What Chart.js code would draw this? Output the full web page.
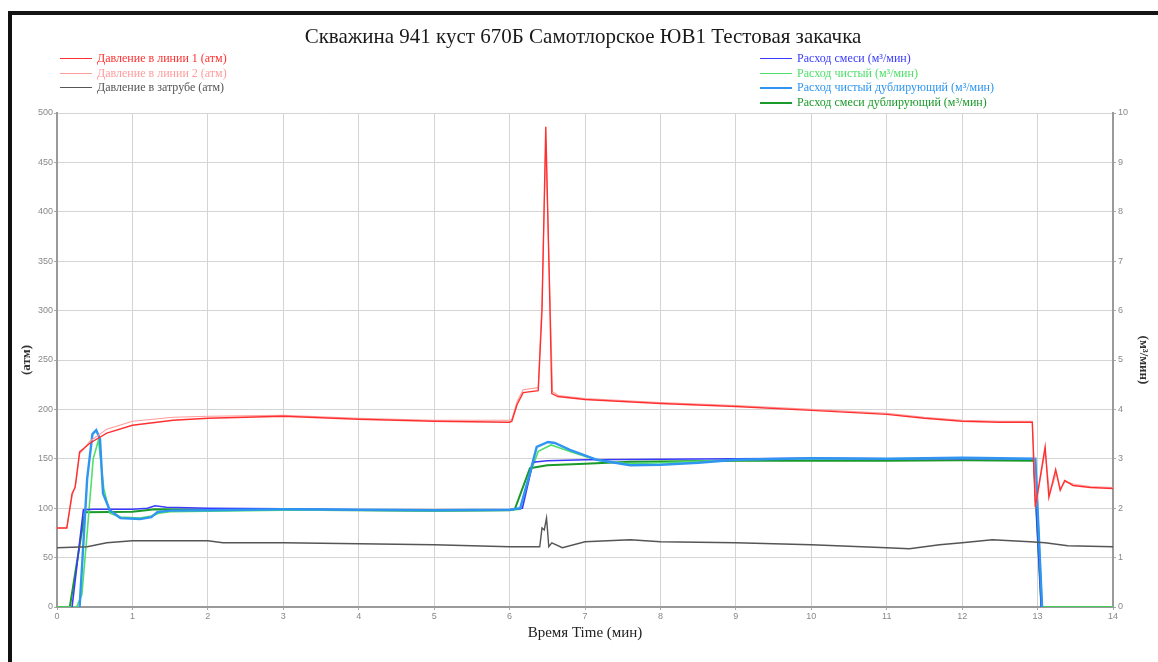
<!DOCTYPE html>
<html>
<head>
<meta charset="utf-8">
<script src="https://cdn.jsdelivr.net/npm/chart.js@4.4.1/dist/chart.umd.min.js"></script>
<style>
  html, body { margin: 0; padding: 0; background: #fff; }
  #wrap { position: relative; width: 1158px; height: 662px; overflow: hidden; background: #fff; }
  #frame { position: absolute; left: 8px; top: 11px; right: -10px; bottom: -10px;
           border-left: 4px solid #111; border-top: 4px solid #151515; }
  canvas { position: absolute; left: 0; top: 0; }
  #title { position: absolute; left: 0; width: 1166px; top: 24px; text-align: center;
           font-family: "Liberation Serif", serif; font-size: 21px; color: #1a1a1a; white-space: nowrap; }
  .leg { position: absolute; font-family: "Liberation Serif", serif; font-size: 12px; line-height: 14px; white-space: nowrap; }
  .leg .row { position: relative; height: 14.7px; }
  .leg .ln { position: absolute; left: 0; top: 7px; width: 32px; }
  .leg .tx { position: absolute; left: 37px; top: 0; }
</style>
</head>
<body>
<div id="wrap">
  <canvas id="c" width="1158" height="662"></canvas>
  <div id="frame"></div>
  <div id="title">Скважина 941 куст 670Б Самотлорское ЮВ1 Тестовая закачка</div>
  <div class="leg" id="legL" style="left:60px; top:51px;"></div>
  <div class="leg" id="legR" style="left:760px; top:51px;"></div>
</div>
<script>
// ---- data (time in minutes) ----
const xTicks = [0,1,2,3,4,5,6,7,8,9,10,11,12,13,14];

// Давление в линии 1 (атм)
const p1T = [0, 0.13, 0.2, 0.24, 0.3, 0.44, 0.66, 1.0, 1.54, 2.0, 3.0, 4.0, 5.0, 6.0, 6.03, 6.1, 6.18, 6.38, 6.43, 6.48, 6.53, 6.56, 6.64, 7.0, 8.0, 9.0, 10.0, 11.0, 11.5, 12.0, 12.5, 12.93, 12.97, 13.1, 13.15, 13.24, 13.3, 13.36, 13.47, 13.7, 14.0];
const p1V = [80, 80, 115, 121, 157, 166, 176, 184, 189, 191, 193, 190, 188, 187, 188, 205, 217, 219, 300, 486, 320, 216, 213, 210, 206, 203, 199, 195, 191, 188, 187, 187, 101, 162, 111, 139, 118, 128, 123, 121, 120];

// Давление в линии 2 (атм)
const p2T = [0, 0.13, 0.2, 0.25, 0.3, 0.44, 0.66, 1.0, 1.54, 2.0, 3.0, 4.0, 5.0, 6.0, 6.03, 6.1, 6.18, 6.38, 6.43, 6.48, 6.53, 6.57, 6.65, 7.0, 8.0, 9.0, 10.0, 11.0, 11.5, 12.0, 12.5, 12.93, 12.98, 13.1, 13.16, 13.25, 13.3, 13.37, 13.5, 13.7, 14.0];
const p2V = [80, 80, 112, 125, 155, 168, 180, 188, 192, 193, 194, 191, 189, 189, 190, 208, 220, 222, 310, 470, 330, 218, 214, 211, 207, 204, 200, 196, 192, 189, 188, 188, 104, 158, 114, 136, 120, 127, 124, 122, 121];

// Давление в затрубе (атм)
const aT = [0, 0.4, 0.66, 1.0, 2.0, 2.2, 3.0, 4.0, 5.0, 6.0, 6.4, 6.43, 6.46, 6.49, 6.52, 6.56, 6.7, 7.0, 7.6, 8.0, 9.0, 10.0, 11.0, 11.3, 11.7, 12.0, 12.4, 12.9, 13.1, 13.4, 14.0];
const aV = [60, 61, 65, 67, 67, 65, 65, 64, 63, 61, 61, 80, 78, 90, 61, 65, 60, 66, 68, 66, 65, 63, 60, 59, 63, 65, 68, 66, 65, 62, 61];

// Расход смеси (м³/мин)
const mT = [0.2, 0.35, 0.5, 1.0, 1.2, 1.3, 1.45, 2.0, 3.0, 4.0, 5.0, 6.0, 6.17, 6.31, 6.5, 7.0, 8.0, 9.0, 10.0, 11.0, 12.0, 12.95, 13.05];
const mV = [0, 1.97, 1.98, 1.98, 2.0, 2.05, 2.02, 2.0, 1.99, 1.97, 1.96, 1.97, 2.0, 2.93, 2.96, 2.98, 2.99, 3.0, 3.01, 3.0, 3.0, 3.0, 0];

// Расход чистый (м³/мин)
const cgT = [0, 0.26, 0.33, 0.4, 0.48, 0.55, 0.62, 0.7, 0.84, 1.1, 1.25, 1.35, 1.5, 2.0, 3.0, 4.0, 5.0, 6.0, 6.14, 6.27, 6.38, 6.55, 6.8, 7.16, 7.6, 8.0, 9.0, 10.0, 11.0, 12.0, 12.97, 13.06, 14.0];
const cgV = [0, 0, 0.25, 1.5, 3.0, 3.38, 2.4, 1.9, 1.82, 1.8, 1.84, 1.9, 1.93, 1.94, 1.96, 1.96, 1.95, 1.96, 1.98, 2.7, 3.15, 3.28, 3.15, 2.97, 2.9, 2.92, 2.98, 3.0, 3.0, 3.01, 2.99, 0, 0];

// Расход чистый дублирующий (м³/мин)
const cbT = [0.3, 0.4, 0.47, 0.52, 0.57, 0.61, 0.7, 0.84, 1.1, 1.25, 1.33, 1.5, 2.0, 3.0, 4.0, 5.0, 6.0, 6.14, 6.25, 6.36, 6.51, 6.6, 6.8, 7.16, 7.6, 8.0, 8.5, 9.0, 10.0, 11.0, 12.0, 12.97, 13.06];
const cbV = [0, 2.6, 3.5, 3.58, 3.4, 2.3, 1.96, 1.8, 1.78, 1.82, 1.92, 1.95, 1.96, 1.98, 1.97, 1.96, 1.97, 2.0, 2.6, 3.24, 3.34, 3.32, 3.18, 2.98, 2.87, 2.88, 2.92, 2.98, 3.01, 3.0, 3.02, 3.0, 0];

// Расход смеси дублирующий (м³/мин)
const gT = [0, 0.17, 0.37, 1.0, 1.3, 2.0, 3.0, 4.0, 5.0, 6.0, 6.07, 6.27, 6.5, 7.0, 7.6, 9.0, 10.0, 11.0, 12.0, 12.95, 13.05, 14.0];
const gV = [0, 0, 1.92, 1.93, 1.98, 1.97, 1.97, 1.96, 1.95, 1.96, 1.98, 2.81, 2.87, 2.9, 2.94, 2.96, 2.96, 2.96, 2.97, 2.96, 0, 0];

const leftLabels = ['Давление в линии 1 (атм)', 'Давление в линии 2 (атм)', 'Давление в затрубе (атм)'];
const rightLabels = ['Расход смеси (м³/мин)', 'Расход чистый (м³/мин)', 'Расход чистый дублирующий (м³/мин)', 'Расход смеси дублирующий (м³/мин)'];

// ---- build ----
const pts = (T, V) => T.map((t, i) => ({x: t, y: V[i]}));
const series = [
  {label: leftLabels[0], T: p1T, V: p1V, color: '#ff3030', w: 1.4, axis: 'y', order: 1},
  {label: leftLabels[1], T: p2T, V: p2V, color: '#ff9c9c', w: 1.1, axis: 'y', order: 2},
  {label: leftLabels[2], T: aT, V: aV, color: '#555555', w: 1.4, axis: 'y', order: 3},
  {label: rightLabels[0], T: mT, V: mV, color: '#3a3aff', w: 1.6, axis: 'y2', order: 5},
  {label: rightLabels[1], T: cgT, V: cgV, color: '#4ee06a', w: 1.6, axis: 'y2', order: 6},
  {label: rightLabels[2], T: cbT, V: cbV, color: '#2f95f0', w: 2.4, axis: 'y2', order: 4},
  {label: rightLabels[3], T: gT, V: gV, color: '#1a9a2a', w: 2.0, axis: 'y2', order: 7}
];

function legend(el, list) {
  const box = document.getElementById(el);
  list.forEach(s => {
    const r = document.createElement('div'); r.className = 'row';
    const l = document.createElement('div'); l.className = 'ln';
    l.style.borderTop = Math.max(1.5, s.w) + 'px solid ' + s.color;
    const t = document.createElement('div'); t.className = 'tx';
    t.style.color = s.color; t.textContent = s.label;
    r.appendChild(l); r.appendChild(t); box.appendChild(r);
  });
}
legend('legL', series.slice(0, 3));
legend('legR', series.slice(3));

const tickFont = {family: 'Liberation Sans', size: 9};
new Chart(document.getElementById('c'), {
  type: 'line',
  data: {
    datasets: series.map(s => ({
      label: s.label, data: pts(s.T, s.V), yAxisID: s.axis,
      borderColor: s.color, backgroundColor: s.color, borderWidth: s.w,
      pointRadius: 0, tension: 0, fill: false, order: s.order
    }))
  },
  options: {
    responsive: false, animation: false, devicePixelRatio: 1,
    layout: {padding: {top: 113, left: 0, right: 0, bottom: 0}},
    plugins: {legend: {display: false}, title: {display: false}, tooltip: {enabled: false}},
    scales: {
      x: {
        type: 'linear', min: 0, max: 14,
        afterBuildTicks: sc => { sc.ticks = xTicks.map(v => ({value: v})); },
        afterFit: sc => { sc.height = 55; },
        ticks: {font: tickFont, color: '#888', padding: 1, maxRotation: 0},
        grid: {color: '#d4d4d4', lineWidth: 1, tickLength: 3, tickColor: '#aaa'},
        border: {color: '#9a9a9a', width: 2},
        title: {display: true, text: 'Время Time (мин)', color: '#222',
                font: {family: 'Liberation Serif', size: 15}, padding: {top: 0, bottom: 20}}
      },
      y: {
        position: 'left', min: 0, max: 500,
        ticks: {stepSize: 50, font: tickFont, color: '#888', padding: 1},
        afterFit: sc => { sc.width = 57; },
        grid: {color: '#d4d4d4', lineWidth: 1, tickLength: 3, tickColor: '#aaa'},
        border: {color: '#9a9a9a', width: 2},
        title: {display: true, text: '(атм)', color: '#333',
                font: {family: 'Liberation Serif', size: 13, weight: 'bold'}, padding: {top: 19, bottom: 0}}
      },
      y2: {
        position: 'right', min: 0, max: 10,
        ticks: {stepSize: 1, font: tickFont, color: '#888', padding: 2},
        afterFit: sc => { sc.width = 45; },
        grid: {drawOnChartArea: false, tickLength: 3, tickColor: '#aaa'},
        border: {color: '#9a9a9a', width: 2},
        title: {display: true, text: '(м³/мин)', color: '#333',
                font: {family: 'Liberation Serif', size: 13, weight: 'bold'}, padding: {top: 7, bottom: 0}}
      }
    }
  }
});
</script>
</body>
</html>
